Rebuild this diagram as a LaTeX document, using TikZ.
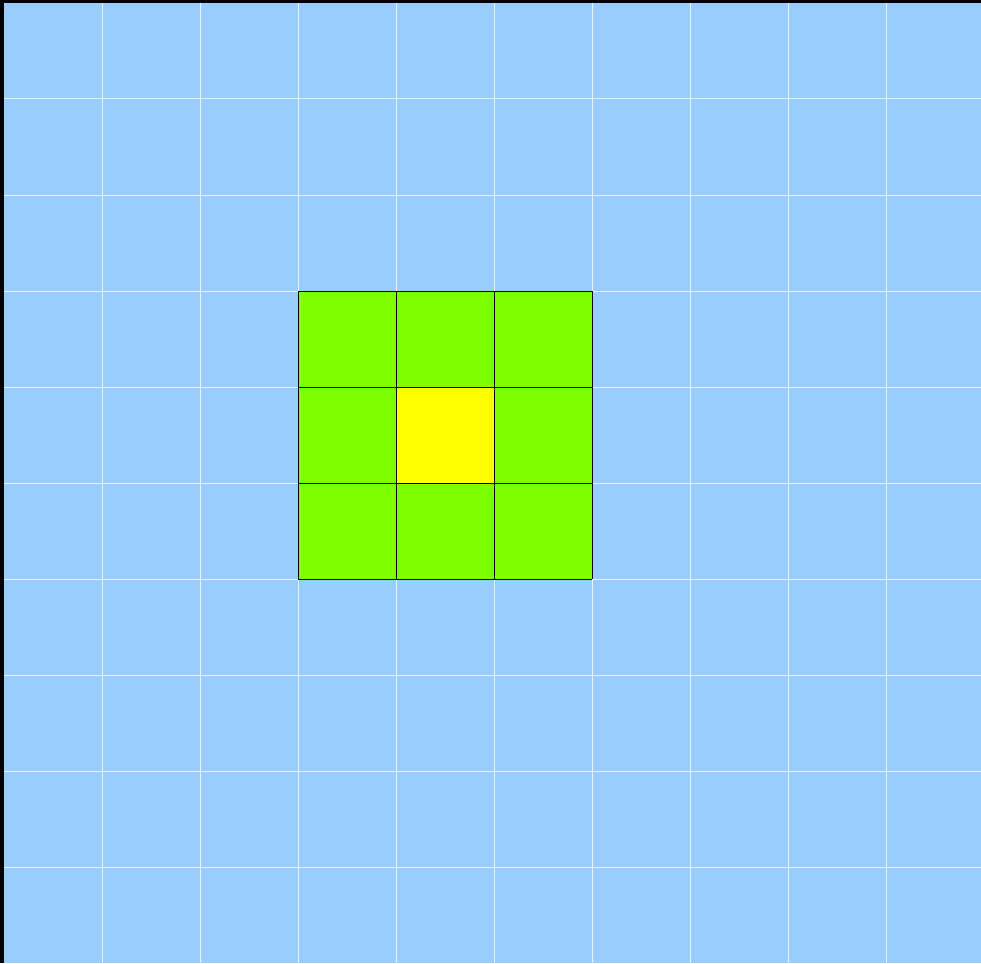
\documentclass[tikz,border=0pt]{standalone}
\definecolor{skyblue}{HTML}{99CCFF}
\definecolor{limegreen}{HTML}{80FF00}
\definecolor{brightyellow}{HTML}{FFFF00}
\tikzset{
  gridline/.style={draw=white, opacity=0.8, line width=1pt},
  cellline/.style={draw=black, line width=1pt},
}
\begin{document}
\begin{tikzpicture}[x=1pt,y=-1pt]
  \useasboundingbox (0,0) rectangle (981,963);
  \fill[black] (0,0) rectangle (981,963);
  \fill[skyblue] (4,3) rectangle (981,963);
  % grid
  \foreach \i in {1,...,9} {
    \draw[gridline] ({4+98*\i},3) -- ({4+98*\i},963);
    \draw[gridline] (4,{3+96*\i}) -- (981,{3+96*\i});
  }
  % green block
  \fill[limegreen] (298,291) rectangle (592,579);
  \fill[brightyellow] (396,387) rectangle (494,483);
  \foreach \i in {0,...,3} {
    \draw[cellline] ({298+98*\i},291) -- ({298+98*\i},579);
    \draw[cellline] (298,{291+96*\i}) -- (592,{291+96*\i});
  }
\end{tikzpicture}
\end{document}
